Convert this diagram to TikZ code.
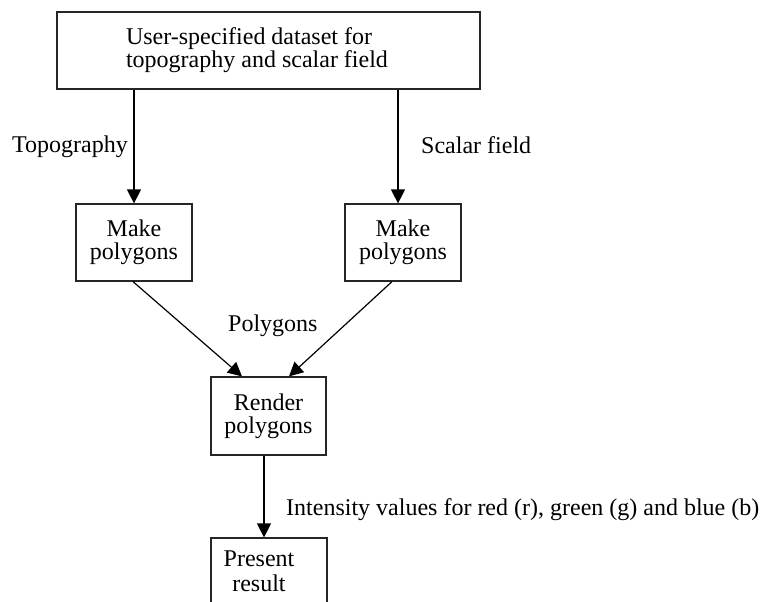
\documentclass[tikz,border=0pt]{standalone}
\usepackage{fontspec}
\setmainfont{Liberation Serif}
\usetikzlibrary{arrows.meta}
\begin{document}
\begin{tikzpicture}[x=1pt,y=-1pt,
  box/.style={draw=black!85, line width=1.2pt, minimum width=116pt, minimum height=77pt, inner sep=0pt, align=center, font=\fontsize{24}{23}\selectfont},
  txt/.style={inner sep=0pt, align=center, font=\fontsize{24}{23}\selectfont},
  lbl/.style={inner sep=0pt, anchor=base west, font=\fontsize{24}{24}\selectfont},
  arr/.style={line width=1.2pt, -{Triangle[length=14pt,width=14pt]}}
]
\clip (0,0) rectangle (760,602);
\useasboundingbox (0,0) rectangle (760,602);

\node[box, minimum width=423pt, minimum height=77pt] (top) at (268.5,50.5) {};
\node[txt, align=left, font=\fontsize{24}{22}\selectfont] (toptxt) at (257,50) {User-specified dataset for\\topography and scalar field};

\node[box] (mpL) at (134,242.5) {Make\\polygons};
\node[box] (mpR) at (403,242.5) {Make\\polygons};
\node[box, minimum width=115pt, minimum height=78pt] (render) at (268.5,416) {Render\\polygons};
\node[box, minimum width=116pt, minimum height=100pt] (present) at (269,588) {};
\node[txt, font=\fontsize{24}{25}\selectfont] (presenttxt) at (259,571) {Present\\result};

\draw[arr] (top.south -| mpL.north) -- (mpL.north);
\draw[arr] ([xshift=-5pt]top.south -| mpR.north) -- ([xshift=-5pt]mpR.north);
\draw[arr] ([xshift=-1pt]mpL.south) -- ([xshift=-26.5pt]render.north);
\draw[arr] ([xshift=-11pt]mpR.south) -- ([xshift=20.5pt]render.north);
\draw[arr] ([xshift=-4.5pt]render.south) -- ([xshift=-5pt]present.north);

\node[lbl] (ltopo) at (12,152) {Topography};
\node[lbl] (lscal) at (421,153) {Scalar field};
\node[lbl] (lpoly) at (228,331) {Polygons};
\node[lbl] (lint) at (286,515) {Intensity values for red (r), green (g) and blue (b)};
\end{tikzpicture}
\end{document}
